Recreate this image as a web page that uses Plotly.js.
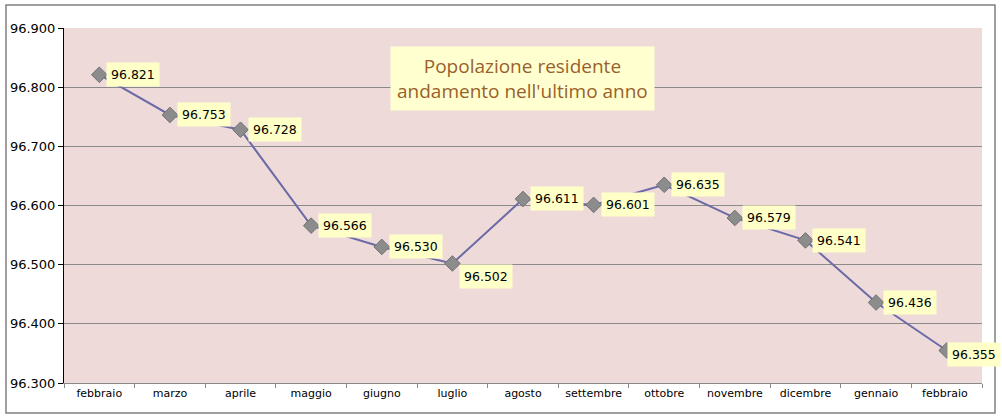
<!DOCTYPE html>
<html><head><meta charset="utf-8">
<script src="https://cdn.plot.ly/plotly-3.0.1.min.js"></script>
<style>html,body{margin:0;padding:0;background:#fff}</style>
</head><body>
<div id="chart" style="width:1002px;height:420px"></div>
<script>
const months = ["febbraio","marzo","aprile","maggio","giugno","luglio","agosto","settembre","ottobre","novembre","dicembre","gennaio","febbraio "];
const population = [96821,96753,96728,96566,96530,96502,96611,96601,96635,96579,96541,96436,96355];
const yTicks = [96300,96400,96500,96600,96700,96800,96900];
const titleLines = ["Popolazione residente","andamento nell'ultimo anno"];

const trace = {
  x: months, y: population, type: "scatter", mode: "lines+markers",
  line: {color: "#6a6aa6", width: 2},
  marker: {symbol: "diamond", size: 12, color: "#8c8c8c", line: {color: "#707070", width: 1}},
  hoverinfo: "skip"
};

const fmt = v => { const s = String(v); return s.slice(0, s.length-3) + "." + s.slice(-3); };
const labelShiftY = {5: -13, 12: -4};
const labelShiftX = {12: 0};
const annotations = months.map((m, i) => ({
  x: m, y: population[i], xref: "x", yref: "y",
  text: fmt(population[i]), showarrow: false,
  xanchor: "left", yanchor: "middle",
  xshift: (i in labelShiftX) ? labelShiftX[i] : 7, yshift: labelShiftY[i] || 0,
  bgcolor: "#ffffc8", borderpad: 4,
  font: {family: "DejaVu Sans, Verdana, sans-serif", size: 12.5, color: "#000"}
}));
annotations.push({
  xref: "paper", yref: "paper", x: 0.499, y: 0.858,
  text: titleLines.join("<br>"), showarrow: false,
  xanchor: "center", yanchor: "middle",
  bgcolor: "#ffffd0", borderpad: 6,
  font: {family: "Open Sans, Calibri, sans-serif", size: 19, color: "#9a5f2c"}
});

const layout = {
  width: 1002, height: 420,
  margin: {l: 64, r: 20, t: 28, b: 37},
  paper_bgcolor: "#ffffff", plot_bgcolor: "#efdada",
  separators: ",.",
  showlegend: false,
  xaxis: {
    type: "category", tickson: "boundaries", ticks: "outside", ticklen: 4,
    tickcolor: "#888", showgrid: false, showline: true, linecolor: "#888", linewidth: 1,
    tickfont: {family: "DejaVu Sans, Verdana, sans-serif", size: 11, color: "#000"},
    range: [-0.5, 12.5], fixedrange: true
  },
  yaxis: {
    range: [96300, 96900], tickvals: yTicks, tickformat: ",d",
    ticks: "outside", ticklen: 5, tickcolor: "#000",
    showgrid: true, gridcolor: "#8a8a8a", gridwidth: 1,
    showline: true, linecolor: "#000", linewidth: 1, zeroline: false,
    tickfont: {family: "DejaVu Sans, Verdana, sans-serif", size: 13, color: "#000"},
    fixedrange: true
  },
  annotations: annotations,
  shapes: [{
    type: "rect", xref: "paper", yref: "paper",
    x0: (6-64)/918, x1: (995-64)/918, y0: (383-413)/355, y1: (383-5)/355,
    line: {color: "#808080", width: 1.5}, fillcolor: "rgba(0,0,0,0)", layer: "below"
  }]
};

Plotly.newPlot("chart", [trace], layout, {displayModeBar: false, staticPlot: true});
</script>
</body></html>
